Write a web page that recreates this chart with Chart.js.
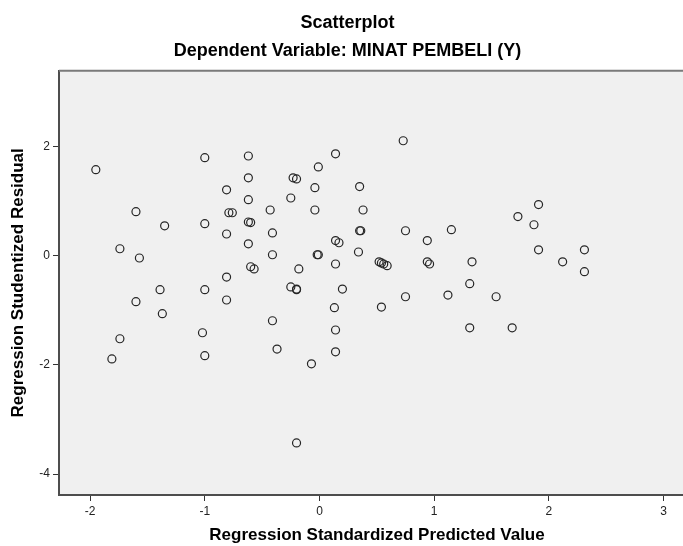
<!DOCTYPE html>
<html>
<head>
<meta charset="utf-8">
<title>Scatterplot</title>
<script src="https://cdn.jsdelivr.net/npm/chart.js@4.4.1/dist/chart.umd.min.js"></script>
<style>
    html, body { margin: 0; padding: 0; background: #fff; overflow: hidden; }
    #wrap { width: 702px; height: 546px; }
</style>
</head>
<body>
<div id="wrap"><canvas id="graficoResidual" width="702" height="546"></canvas></div>
<script>
//Data: predicted value (x) and studentized residual (y)
const predictedValue = [
    -1.95, -1.74, -1.60, -1.57, -1.60, -1.74, -1.81, -1.35, -1.39, -1.37,
    -1.00, -1.00, -1.00, -1.02, -1.00, -0.81, -0.79, -0.76, -0.81, -0.81,
    -0.81, -0.62, -0.62, -0.62, -0.62, -0.60, -0.62, -0.60, -0.57, -0.43,
    -0.41, -0.41, -0.41, -0.37, -0.25, -0.23, -0.20, -0.18, -0.25, -0.20,
    -0.20, -0.20, -0.07, -0.04, -0.01, -0.04, -0.01, -0.02, 0.14, 0.14,
    0.17, 0.14, 0.20, 0.13, 0.14, 0.14, 0.34, 0.35, 0.38, 0.35,
    0.36, 0.52, 0.54, 0.56, 0.59, 0.54, 0.73, 0.75, 0.75, 0.94,
    0.94, 0.96, 1.12, 1.15, 1.31, 1.31, 1.33, 1.54, 1.68, 1.73,
    1.87, 1.91, 1.91, 2.12, 2.31, 2.31
];
const studentizedResidual = [
    1.58, 0.13, 0.81, -0.04, -0.84, -1.52, -1.89, 0.55, -0.62, -1.06,
    1.80, 0.59, -0.62, -1.41, -1.83, 1.21, 0.79, 0.79, 0.40, -0.39,
    -0.81, 1.83, 1.43, 1.03, 0.62, 0.61, 0.22, -0.20, -0.24, 0.84,
    0.42, 0.02, -1.19, -1.71, 1.06, 1.43, 1.41, -0.24, -0.57, -0.61,
    -0.62, -3.43, -1.98, 1.25, 1.63, 0.84, 0.02, 0.02, 1.87, 0.28,
    0.24, -0.15, -0.61, -0.95, -1.36, -1.76, 0.07, 1.27, 0.84, 0.46,
    0.46, -0.11, -0.13, -0.15, -0.18, -0.94, 2.11, 0.46, -0.75, 0.28,
    -0.11, -0.15, -0.72, 0.48, -0.51, -1.32, -0.11, -0.75, -1.32, 0.72,
    0.57, 0.94, 0.11, -0.11, 0.11, -0.29
];

//Tick labels on both axes
const ticksX = [-2, -1, 0, 1, 2, 3];
const ticksY = [-4, -2, 0, 2];

const pontos = predictedValue.map((x, i) => ({ x: x, y: studentizedResidual[i] }));

const fonte = "'Liberation Sans', Arial, sans-serif";

//Grey plot background and top/right frame lines
const fundoPlot = {
    id: 'fundoPlot',
    beforeDraw(chart) {
        const { ctx, chartArea } = chart;
        ctx.save();
        ctx.fillStyle = '#f0f0f0';
        ctx.fillRect(chartArea.left, chartArea.top, chartArea.right - chartArea.left, chartArea.bottom - chartArea.top);
        ctx.restore();
    },
    afterDraw(chart) {
        const { ctx, chartArea } = chart;
        ctx.save();
        ctx.strokeStyle = '#7a7a7a';
        ctx.lineWidth = 2;
        ctx.beginPath();
        ctx.moveTo(chartArea.left, chartArea.top);
        ctx.lineTo(chartArea.right, chartArea.top);
        ctx.lineTo(chartArea.right, chartArea.bottom);
        ctx.stroke();
        ctx.restore();
    }
};

const grafico = new Chart(document.getElementById('graficoResidual'), {
    type: 'scatter',
    data: {
        datasets: [{
            data: pontos,
            pointStyle: 'circle',
            pointRadius: 4,
            pointHoverRadius: 4,
            borderWidth: 1.2,
            borderColor: '#262626',
            backgroundColor: 'rgba(0,0,0,0)'
        }]
    },
    options: {
        responsive: false,
        animation: false,
        layout: { padding: { left: 0, right: 7, top: 0, bottom: 0 } },
        plugins: {
            legend: { display: false },
            tooltip: { enabled: false },
            title: {
                display: true,
                text: 'Scatterplot',
                color: '#000',
                font: { family: fonte, size: 18, weight: 'bold' },
                padding: { top: 12, bottom: 3 }
            },
            subtitle: {
                display: true,
                text: 'Dependent Variable: MINAT PEMBELI (Y)',
                color: '#000',
                font: { family: fonte, size: 18, weight: 'bold' },
                padding: { top: 4, bottom: 8.5 }
            }
        },
        scales: {
            x: {
                type: 'linear',
                min: -2.271,
                max: 3.274,
                afterBuildTicks: (scale) => { scale.ticks = ticksX.map(v => ({ value: v })); },
                afterFit: (scale) => { scale.height = 51; },
                grid: { drawOnChartArea: false, drawTicks: true, tickLength: 6, color: '#333' },
                border: { display: true, color: '#4d4d4d', width: 2 },
                ticks: { color: '#222', padding: 3, font: { family: fonte, size: 12 } },
                title: {
                    display: true,
                    text: 'Regression Standardized Predicted Value',
                    color: '#000',
                    font: { family: fonte, size: 17, weight: 'bold' },
                    padding: { top: 0, bottom: 0 }
                }
            },
            y: {
                type: 'linear',
                min: -4.385,
                max: 3.394,
                afterBuildTicks: (scale) => { scale.ticks = ticksY.map(v => ({ value: v })); },
                afterFit: (scale) => { scale.width = 59; },
                grid: { drawOnChartArea: false, drawTicks: true, tickLength: 6, color: '#333' },
                border: { display: true, color: '#4d4d4d', width: 2 },
                ticks: { color: '#222', padding: 3, font: { family: fonte, size: 12 } },
                title: {
                    display: true,
                    text: 'Regression Studentized Residual',
                    color: '#000',
                    font: { family: fonte, size: 17, weight: 'bold' },
                    padding: { top: 8, bottom: 0 }
                }
            }
        }
    },
    plugins: [fundoPlot]
});
</script>
</body>
</html>
